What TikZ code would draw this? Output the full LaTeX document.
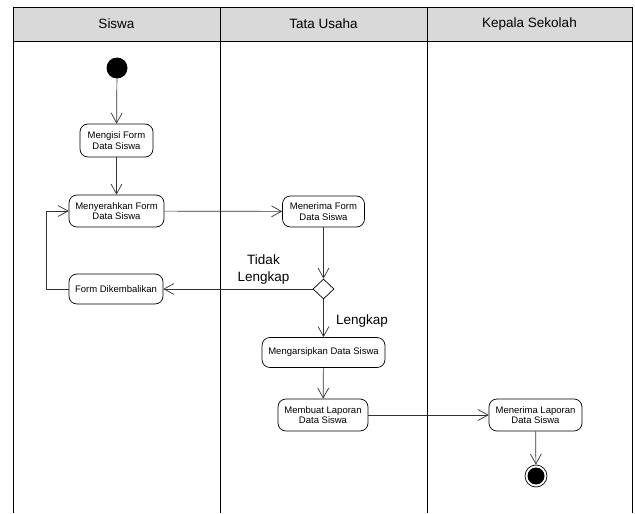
\documentclass[tikz,border=0pt]{standalone}
\usepackage{fontspec}
\setmainfont{Liberation Sans}
\usetikzlibrary{arrows.meta,shapes.geometric}
\begin{document}
\begin{tikzpicture}[x=1pt,y=-1pt,
 act/.style={draw=black, line width=0.7pt, rounded corners=8pt, align=center, font=\fontsize{9.5}{10.5}\selectfont, inner sep=0pt},
 flow/.style={draw=black!80, line width=0.7pt, -{Straight Barb[length=10pt,width=11pt,line width=0.7pt]}},
 lane/.style={draw=black, line width=0.9pt},
 hdr/.style={font=\fontsize{13.5}{15}\selectfont},
 lbl/.style={font=\fontsize{13.5}{17}\selectfont, align=center}]

\useasboundingbox (0,0) rectangle (635,514);
\fill[white] (0,0) rectangle (635,514);

% swimlanes
\filldraw[fill=black!15, lane] (13,7) rectangle (632,41);
\draw[lane] (13,41) -- (13,513);
\draw[lane] (220,7) -- (220,513);
\draw[lane] (427,7) -- (427,513);
\draw[lane] (632,41) -- (632,513);

\node[hdr] (h1) at (116.5,24) {Siswa};
\node[hdr] (h2) at (323.5,24) {Tata Usaha};
\node[hdr] (h3) at (529.5,24) {Kepala Sekolah};

% nodes
\node[circle, fill=black, minimum size=21pt, inner sep=0pt] (start) at (117,68) {};
\node[act, minimum width=73pt, minimum height=33pt] (mengisi) at (116.5,140.5) {Mengisi Form\\Data Siswa};
\node[act, minimum width=95pt, minimum height=32pt] (menyerah) at (116.5,211) {Menyerahkan Form\\Data Siswa};
\node[act, minimum width=94pt, minimum height=30pt] (kembali) at (116,289) {Form Dikembalikan};
\node[act, minimum width=82pt, minimum height=31pt] (terima) at (323.5,211.5) {Menerima Form\\Data Siswa};
\node[diamond, draw=black, line width=0.7pt, minimum width=21pt, minimum height=20pt, inner sep=0pt] (dec) at (323.5,289) {};
\node[act, minimum width=123pt, minimum height=30pt] (arsip) at (323.5,352.5) {Mengarsipkan Data Siswa};
\node[act, minimum width=90pt, minimum height=32pt] (laporan) at (323,415) {Membuat Laporan\\Data Siswa};
\node[act, minimum width=93pt, minimum height=32pt] (terimalap) at (535.5,415) {Menerima Laporan\\Data Siswa};
\node[circle, draw=black, line width=0.7pt, minimum size=22pt, inner sep=0pt] (end) at (536,476) {};
\node[circle, fill=black, minimum size=17pt, inner sep=0pt] (endin) at (end.center) {};

% labels
\node[lbl] (tidak) at (263.5,270) {Tidak\\Lengkap};
\node[lbl] (lengkap) at (362,321) {Lengkap};

% connectors
\draw[flow] (start) -- (mengisi);
\draw[flow] (mengisi) -- (menyerah);
\draw[flow] (menyerah) -- (terima);
\draw[flow] (terima) -- (dec);
\draw[flow] (dec) -- (kembali);
\draw[flow] (kembali.west) -- ++(-22,0) |- (menyerah.west);
\draw[flow] (dec) -- (arsip);
\draw[flow] (arsip) -- (laporan);
\draw[flow] (laporan) -- (terimalap);
\draw[flow] (terimalap) -- (end);
\end{tikzpicture}
\end{document}
